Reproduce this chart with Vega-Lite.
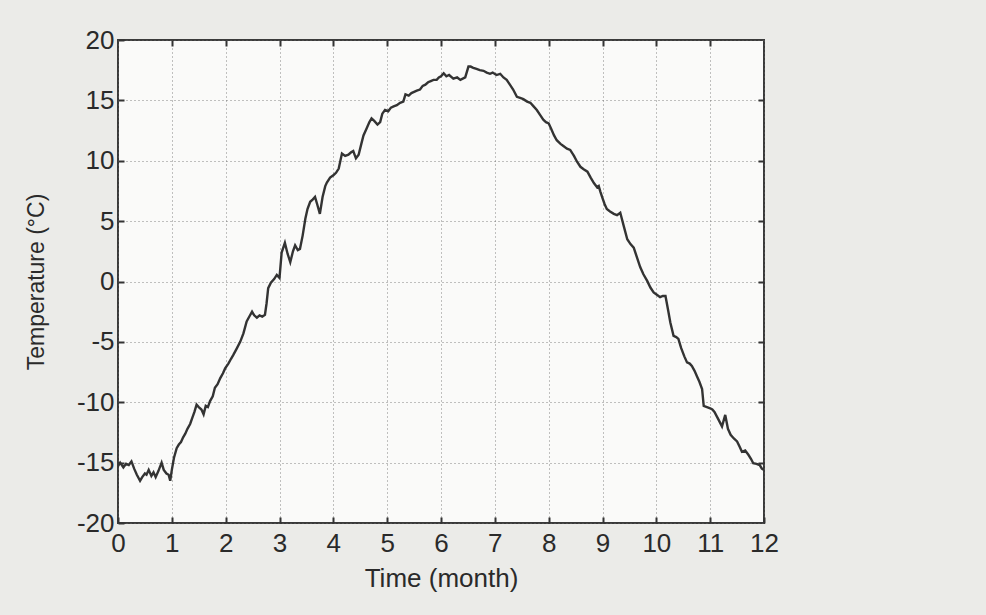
{
  "$schema": "https://vega.github.io/schema/vega-lite/v6.json",
  "autosize": "none",
  "width": 646,
  "height": 483,
  "padding": {"left": 118, "top": 40, "right": 222, "bottom": 92},
  "background": "#ebebe8",
  "config": {
    "view": {"fill": "#fafaf9", "stroke": "#3a3a3a", "strokeWidth": 2},
    "font": "Liberation Sans",
    "axis": {
      "labelFont": "Liberation Sans",
      "titleFont": "Liberation Sans",
      "labelFontSize": 26,
      "titleFontSize": 25,
      "labelColor": "#2a2a2a",
      "titleColor": "#2a2a2a",
      "titleFontWeight": "normal",
      "tickColor": "#333",
      "tickWidth": 2,
      "tickSize": -6,
      "domain": false,
      "gridColor": "#666",
      "gridDash": [1, 3],
      "gridWidth": 1,
      "gridOpacity": 0.8
    }
  },
  "data": {"values": [
    {"m":0.00,"t":-15.3},{"m":0.04,"t":-15.0},{"m":0.10,"t":-15.4},{"m":0.15,"t":-15.1},{"m":0.20,"t":-15.2},{"m":0.25,"t":-14.9},{"m":0.30,"t":-15.5},{"m":0.35,"t":-16.0},{"m":0.41,"t":-16.5},{"m":0.45,"t":-16.2},{"m":0.50,"t":-15.9},{"m":0.53,"t":-16.0},{"m":0.57,"t":-15.6},{"m":0.62,"t":-16.1},{"m":0.66,"t":-15.8},{"m":0.70,"t":-16.2},{"m":0.75,"t":-15.7},{"m":0.81,"t":-15.0},{"m":0.85,"t":-15.6},{"m":0.90,"t":-15.9},{"m":0.94,"t":-16.0},{"m":0.97,"t":-16.5},
    {"m":1.00,"t":-15.6},{"m":1.04,"t":-14.6},{"m":1.09,"t":-13.8},{"m":1.13,"t":-13.5},{"m":1.17,"t":-13.3},{"m":1.21,"t":-12.9},{"m":1.25,"t":-12.6},{"m":1.29,"t":-12.2},{"m":1.34,"t":-11.8},{"m":1.38,"t":-11.3},{"m":1.42,"t":-10.8},{"m":1.46,"t":-10.2},{"m":1.50,"t":-10.4},{"m":1.55,"t":-10.6},{"m":1.59,"t":-11.0},{"m":1.63,"t":-10.3},{"m":1.67,"t":-10.4},{"m":1.71,"t":-9.9},{"m":1.76,"t":-9.5},{"m":1.80,"t":-8.8},{"m":1.85,"t":-8.5},{"m":1.90,"t":-8.0},{"m":1.95,"t":-7.6},{"m":1.99,"t":-7.2},
    {"m":2.05,"t":-6.8},{"m":2.10,"t":-6.4},{"m":2.14,"t":-6.1},{"m":2.20,"t":-5.6},{"m":2.27,"t":-5.0},{"m":2.33,"t":-4.3},{"m":2.39,"t":-3.3},{"m":2.44,"t":-2.9},{"m":2.49,"t":-2.5},{"m":2.53,"t":-2.8},{"m":2.58,"t":-3.0},{"m":2.63,"t":-2.8},{"m":2.68,"t":-2.9},{"m":2.73,"t":-2.75},{"m":2.76,"t":-1.8},{"m":2.79,"t":-0.55},{"m":2.84,"t":-0.1},{"m":2.90,"t":0.2},{"m":2.95,"t":0.55},
    {"m":3.00,"t":0.3},{"m":3.04,"t":2.4},{"m":3.10,"t":3.2},{"m":3.15,"t":2.3},{"m":3.20,"t":1.6},{"m":3.25,"t":2.5},{"m":3.29,"t":3.0},{"m":3.34,"t":2.6},{"m":3.38,"t":2.7},{"m":3.43,"t":3.8},{"m":3.48,"t":5.2},{"m":3.52,"t":6.0},{"m":3.57,"t":6.6},{"m":3.62,"t":6.8},{"m":3.66,"t":7.0},{"m":3.70,"t":6.4},{"m":3.75,"t":5.6},{"m":3.80,"t":7.0},{"m":3.85,"t":7.9},{"m":3.88,"t":8.2},{"m":3.94,"t":8.6},
    {"m":4.00,"t":8.8},{"m":4.05,"t":9.0},{"m":4.10,"t":9.35},{"m":4.16,"t":10.6},{"m":4.22,"t":10.4},{"m":4.28,"t":10.5},{"m":4.33,"t":10.7},{"m":4.37,"t":10.8},{"m":4.42,"t":10.2},{"m":4.47,"t":10.5},{"m":4.52,"t":11.4},{"m":4.56,"t":12.1},{"m":4.62,"t":12.7},{"m":4.67,"t":13.2},{"m":4.71,"t":13.5},{"m":4.76,"t":13.3},{"m":4.82,"t":13.0},{"m":4.87,"t":13.2},{"m":4.91,"t":13.9},{"m":4.96,"t":14.2},
    {"m":5.02,"t":14.1},{"m":5.07,"t":14.4},{"m":5.12,"t":14.5},{"m":5.18,"t":14.6},{"m":5.24,"t":14.8},{"m":5.30,"t":14.9},{"m":5.34,"t":15.5},{"m":5.40,"t":15.4},{"m":5.45,"t":15.6},{"m":5.50,"t":15.7},{"m":5.55,"t":15.8},{"m":5.61,"t":15.9},{"m":5.66,"t":16.2},{"m":5.71,"t":16.3},{"m":5.76,"t":16.5},{"m":5.81,"t":16.6},{"m":5.86,"t":16.7},{"m":5.92,"t":16.7},{"m":5.96,"t":16.9},
    {"m":6.00,"t":17.0},{"m":6.05,"t":17.25},{"m":6.10,"t":17.0},{"m":6.15,"t":17.1},{"m":6.23,"t":16.8},{"m":6.30,"t":16.9},{"m":6.36,"t":16.7},{"m":6.45,"t":16.9},{"m":6.51,"t":17.8},{"m":6.55,"t":17.8},{"m":6.60,"t":17.7},{"m":6.66,"t":17.6},{"m":6.72,"t":17.5},{"m":6.79,"t":17.45},{"m":6.85,"t":17.3},{"m":6.91,"t":17.2},{"m":6.96,"t":17.3},
    {"m":7.03,"t":17.1},{"m":7.10,"t":17.2},{"m":7.16,"t":16.9},{"m":7.22,"t":16.7},{"m":7.28,"t":16.3},{"m":7.34,"t":15.9},{"m":7.41,"t":15.3},{"m":7.47,"t":15.2},{"m":7.53,"t":15.1},{"m":7.60,"t":14.9},{"m":7.66,"t":14.8},{"m":7.72,"t":14.5},{"m":7.78,"t":14.2},{"m":7.84,"t":13.8},{"m":7.90,"t":13.4},{"m":7.95,"t":13.2},
    {"m":8.00,"t":13.1},{"m":8.05,"t":12.6},{"m":8.10,"t":12.1},{"m":8.15,"t":11.7},{"m":8.22,"t":11.4},{"m":8.28,"t":11.2},{"m":8.34,"t":11.0},{"m":8.40,"t":10.9},{"m":8.47,"t":10.4},{"m":8.53,"t":9.9},{"m":8.59,"t":9.5},{"m":8.65,"t":9.3},{"m":8.72,"t":9.1},{"m":8.78,"t":8.6},{"m":8.84,"t":8.15},{"m":8.90,"t":7.8},{"m":8.93,"t":7.9},{"m":8.96,"t":7.45},
    {"m":9.00,"t":6.9},{"m":9.04,"t":6.4},{"m":9.08,"t":6.0},{"m":9.14,"t":5.8},{"m":9.21,"t":5.6},{"m":9.27,"t":5.5},{"m":9.33,"t":5.7},{"m":9.40,"t":4.5},{"m":9.46,"t":3.5},{"m":9.52,"t":3.1},{"m":9.58,"t":2.8},{"m":9.64,"t":2.0},{"m":9.70,"t":1.2},{"m":9.76,"t":0.6},{"m":9.83,"t":0.05},{"m":9.89,"t":-0.5},{"m":9.95,"t":-0.9},
    {"m":10.01,"t":-1.1},{"m":10.07,"t":-1.3},{"m":10.12,"t":-1.2},{"m":10.17,"t":-1.2},{"m":10.22,"t":-2.4},{"m":10.26,"t":-3.4},{"m":10.32,"t":-4.5},{"m":10.37,"t":-4.6},{"m":10.41,"t":-4.75},{"m":10.46,"t":-5.5},{"m":10.52,"t":-6.2},{"m":10.57,"t":-6.7},{"m":10.62,"t":-6.8},{"m":10.66,"t":-7.0},{"m":10.71,"t":-7.4},{"m":10.75,"t":-7.8},{"m":10.80,"t":-8.3},{"m":10.85,"t":-8.9},{"m":10.88,"t":-10.3},{"m":10.94,"t":-10.4},
    {"m":11.00,"t":-10.5},{"m":11.04,"t":-10.6},{"m":11.08,"t":-10.8},{"m":11.15,"t":-11.4},{"m":11.22,"t":-12.0},{"m":11.28,"t":-11.05},{"m":11.33,"t":-12.2},{"m":11.38,"t":-12.7},{"m":11.44,"t":-13.0},{"m":11.50,"t":-13.25},{"m":11.55,"t":-13.7},{"m":11.59,"t":-14.1},{"m":11.65,"t":-14.0},{"m":11.71,"t":-14.35},{"m":11.76,"t":-14.7},{"m":11.80,"t":-15.05},{"m":11.86,"t":-15.1},{"m":11.92,"t":-15.2},{"m":11.96,"t":-15.5},{"m":12.00,"t":-15.6}
  ]},
  "layer": [
    {
      "mark": {"type": "line", "color": "#333333", "strokeWidth": 2.4, "clip": true},
      "encoding": {
        "x": {"field": "m", "type": "quantitative", "scale": {"domain": [0, 12], "nice": false, "zero": false},
          "axis": {"orient": "bottom", "values": [0,1,2,3,4,5,6,7,8,9,10,11,12], "labelExpr": "'' + datum.value", "title": "Time (month)", "titleFontSize": 26, "labelPadding": 13, "titlePadding": 9, "grid": true, "labelFlush": false}},
        "y": {"field": "t", "type": "quantitative", "scale": {"domain": [-20, 20], "nice": false, "zero": false},
          "axis": {"orient": "left", "values": [-20,-15,-10,-5,0,5,10,15,20], "labelExpr": "'' + datum.value", "title": "Temperature (°C)", "titleFontSize": 23, "labelPadding": 10, "titlePadding": 28, "grid": true, "labelFlush": false}}
      }
    },
    {
      "mark": {"type": "line", "opacity": 0},
      "encoding": {
        "x": {"field": "m", "type": "quantitative", "scale": {"domain": [0, 12], "nice": false, "zero": false},
          "axis": {"orient": "top", "values": [1,2,3,4,5,6,7,8,9,10,11], "labels": false, "title": null, "grid": false}},
        "y": {"field": "t", "type": "quantitative", "scale": {"domain": [-20, 20], "nice": false, "zero": false},
          "axis": {"orient": "right", "values": [-15,-10,-5,0,5,10,15], "labels": false, "title": null, "grid": false}}
      }
    }
  ],
  "resolve": {"axis": {"x": "independent", "y": "independent"}}
}
